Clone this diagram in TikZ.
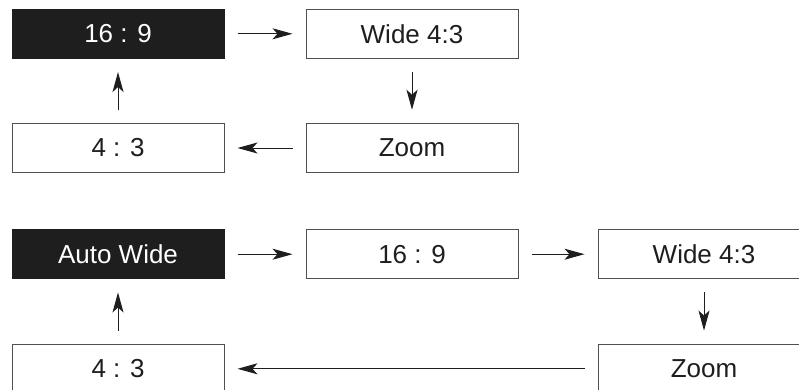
\documentclass[tikz,border=0pt]{standalone}
\usepackage{fontspec}
\setmainfont{Liberation Sans}
\usetikzlibrary{arrows.meta}
\definecolor{boxline}{HTML}{505050}
\definecolor{ink}{HTML}{1E1E1E}
\tikzset{
  modebox/.style={draw=boxline, line width=1pt, minimum width=212pt, minimum height=49.5pt,
    inner sep=0pt, text=ink, font=\fontsize{26}{30}\selectfont},
  activebox/.style={modebox, fill=ink, draw=ink, text=white},
  flow/.style={draw=ink, line width=1pt, shorten <=13pt, shorten >=13pt,
    -{Stealth[length=20pt, width=11pt, inset=5pt]}}
}
\begin{document}
\begin{tikzpicture}[x=1pt, y=-1pt]
\path[use as bounding box] (0,0) rectangle (799,389);
\clip (0,0) rectangle (799,389);
\fill[white] (0,0) rectangle (799,389);
% top cycle
\node[activebox] (t169) at (118,33.8) {16 : 9};
\node[modebox] (twide) at (412,33.8) {Wide 4:3};
\node[modebox] (tzoom) at (412,148) {Zoom};
\node[modebox] (t43) at (118,148) {4 : 3};
\draw[flow] (t169) -- (twide);
\draw[flow] (twide) -- (tzoom);
\draw[flow] (tzoom) -- (t43);
\draw[flow] (t43) -- (t169);
% bottom cycle
\node[activebox] (bauto) at (118,254.2) {Auto Wide};
\node[modebox] (b169) at (412,254.2) {16 : 9};
\node[modebox] (bwide) at (704,254.2) {Wide 4:3};
\node[modebox] (bzoom) at (704,368.8) {Zoom};
\node[modebox] (b43) at (118,368.8) {4 : 3};
\draw[flow] (bauto) -- (b169);
\draw[flow] (b169) -- (bwide);
\draw[flow] (bwide) -- (bzoom);
\draw[flow] (bzoom) -- (b43);
\draw[flow] (b43) -- (bauto);
\end{tikzpicture}
\end{document}
